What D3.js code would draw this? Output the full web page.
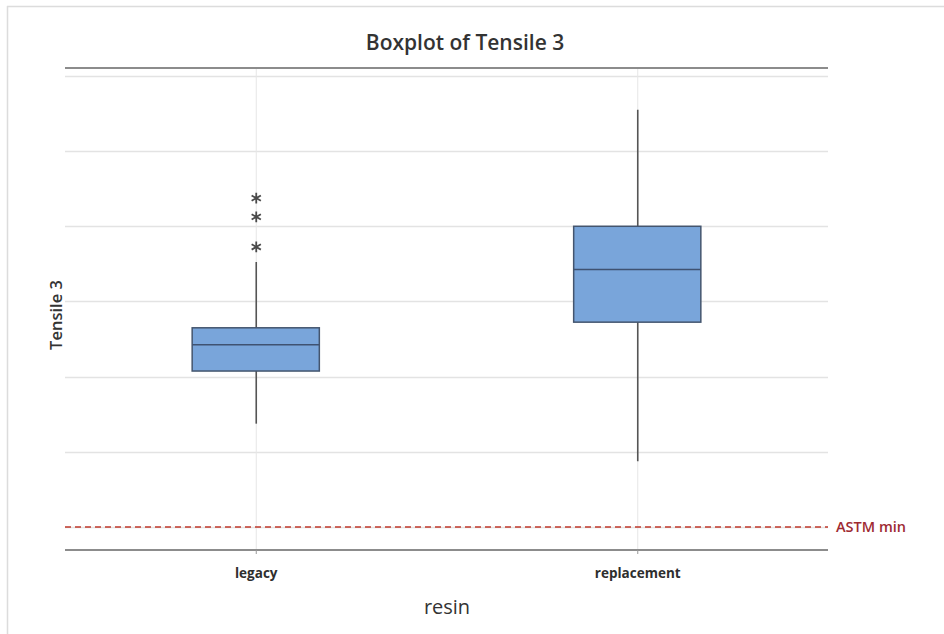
<!DOCTYPE html>
<html>
<head>
<meta charset="utf-8">
<script src="https://cdn.jsdelivr.net/npm/d3@7"></script>
<style>
  html, body { margin: 0; padding: 0; background: #fff; }
  svg { display: block; }
</style>
</head>
<body>
<svg id="chart" width="944" height="634"></svg>
<script>
// Groups and five-number summaries of Tensile 3 by resin
const categories = ["legacy", "replacement"];
const whiskerLow  = [3275, 3175];
const q1          = [3415, 3545];
const median      = [3485, 3685];
const q3          = [3530, 3800];
const whiskerHigh = [3705, 4110];
const outliers    = [[3745, 3825, 3875], []];
const yTicks = [3000, 3200, 3400, 3600, 3800, 4000, 4200];
const astmMin = 3000;

(function draw() {
const svg = d3.select("#chart");
const W = 944, H = 634;
const plotL = 65, plotR = 828, plotT = 68, plotB = 550;
const font = "'Open Sans', 'Noto Sans', sans-serif";

// outer frame
svg.append("line").attr("x1", 7).attr("x2", W).attr("y1", 6.5).attr("y2", 6.5)
  .attr("stroke", "#dcdcdc").attr("stroke-width", 1.5);
svg.append("line").attr("x1", 7.5).attr("x2", 7.5).attr("y1", 6).attr("y2", H)
  .attr("stroke", "#dcdcdc").attr("stroke-width", 1.5);

const x = d3.scalePoint().domain(categories).range([plotL, plotR]).padding(0.5);
const y = d3.scaleLinear().domain([2939, 4221]).range([plotB, plotT]);
const boxW = x.step() / 3;

// horizontal gridlines
svg.append("g").selectAll("line").data(yTicks).join("line")
  .attr("x1", plotL).attr("x2", plotR)
  .attr("y1", d => Math.round(y(d)) + 0.5).attr("y2", d => Math.round(y(d)) + 0.5)
  .attr("stroke", "#e3e3e3").attr("stroke-width", 1.5);

// vertical gridlines at each group
svg.append("g").selectAll("line").data(categories).join("line")
  .attr("x1", d => x(d) + 0.5).attr("x2", d => x(d) + 0.5)
  .attr("y1", plotT).attr("y2", plotB)
  .attr("stroke", "#e6e6e6").attr("stroke-width", 1);

// top and bottom frame lines of the plot
[plotT, plotB].forEach(v => {
  svg.append("line").attr("x1", plotL).attr("x2", plotR).attr("y1", v).attr("y2", v)
    .attr("stroke", "#8c8c8c").attr("stroke-width", 2);
});

// x axis ticks and labels
const xAxis = d3.axisBottom(x).tickSize(4).tickPadding(14);
const gx = svg.append("g").attr("transform", `translate(0,${plotB})`).call(xAxis);
gx.select(".domain").remove();
gx.selectAll(".tick line").attr("stroke", "#999");
gx.selectAll(".tick text")
  .attr("font-family", font)
  .attr("font-size", 13.5).attr("font-weight", 700).attr("fill", "#2e2e2e");

// ASTM minimum reference line
svg.append("line").attr("x1", plotL).attr("x2", plotR)
  .attr("y1", y(astmMin)).attr("y2", y(astmMin))
  .attr("stroke", "#c0392b").attr("stroke-width", 1.5).attr("stroke-dasharray", "6,4");
svg.append("text").attr("x", plotR + 8).attr("y", y(astmMin) + 5)
  .attr("font-family", font).attr("font-weight", 600)
  .attr("font-size", 14.5).attr("fill", "#9e2a32").text("ASTM min");

// boxes
const groups = svg.append("g").selectAll("g").data(categories).join("g");
groups.append("line")
  .attr("x1", d => x(d) + 0.5).attr("x2", d => x(d) + 0.5)
  .attr("y1", (d, i) => y(whiskerLow[i])).attr("y2", (d, i) => y(whiskerHigh[i]))
  .attr("stroke", "#555").attr("stroke-width", 1.6);
groups.append("rect")
  .attr("x", d => x(d) - boxW / 2).attr("width", boxW)
  .attr("y", (d, i) => y(q3[i])).attr("height", (d, i) => y(q1[i]) - y(q3[i]))
  .attr("fill", "#79a5da").attr("stroke", "#44556e").attr("stroke-width", 1.5);
groups.append("line")
  .attr("x1", d => x(d) - boxW / 2).attr("x2", d => x(d) + boxW / 2)
  .attr("y1", (d, i) => y(median[i])).attr("y2", (d, i) => y(median[i]))
  .attr("stroke", "#3f5271").attr("stroke-width", 1.5);

// outliers as asterisks
const star = d3.symbol().type(d3.symbolAsterisk).size(80);
groups.each(function(d, i) {
  d3.select(this).selectAll("path.out").data(outliers[i]).join("path")
    .attr("class", "out")
    .attr("d", star)
    .attr("transform", v => `translate(${x(d) + 0.5},${y(v)})`)
    .attr("fill", "none").attr("stroke", "#4a4a4a").attr("stroke-width", 1.8);
});

// titles
svg.append("text").attr("x", 465).attr("y", 50).attr("text-anchor", "middle")
  .attr("font-family", font).attr("font-weight", 600)
  .attr("font-size", 21).attr("fill", "#333").text("Boxplot of Tensile 3");
svg.append("text").attr("transform", "translate(62,315) rotate(-90)")
  .attr("text-anchor", "middle")
  .attr("font-family", font).attr("font-weight", 600)
  .attr("font-size", 16.5).attr("fill", "#333").text("Tensile 3");
svg.append("text").attr("x", 447).attr("y", 614).attr("text-anchor", "middle")
  .attr("font-family", font).attr("font-weight", 500)
  .attr("font-size", 20).attr("fill", "#333").text("resin");
})();
</script>
</body>
</html>
